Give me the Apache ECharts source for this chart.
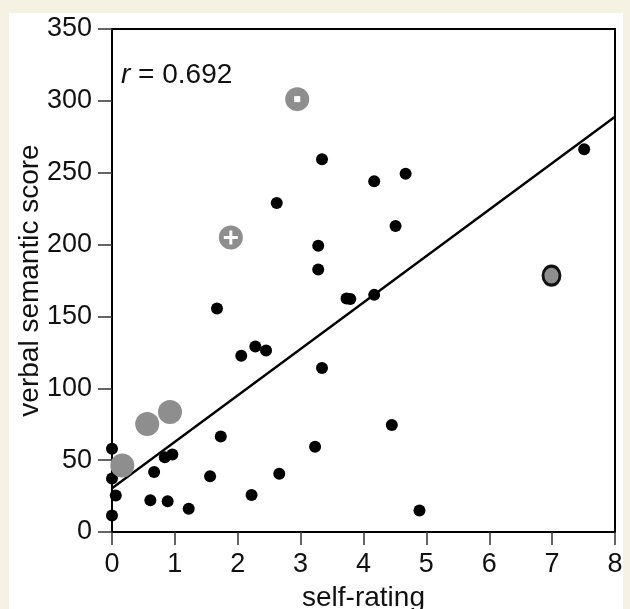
<!DOCTYPE html>
<html>
<head>
<meta charset="utf-8">
<script src="https://cdn.jsdelivr.net/npm/echarts@6/dist/echarts.min.js"></script>
<style>
html,body{margin:0;padding:0;background:#f5f1e3;width:630px;height:609px;overflow:hidden;}
#panel{position:absolute;left:9px;top:13px;width:614px;height:596px;background:#ffffff;}
#chart{position:absolute;left:0;top:0;width:630px;height:609px;}
</style>
</head>
<body>
<div id="panel"></div>
<div id="chart"></div>
<script>
// ---- data ----
const xTicks = [0, 1, 2, 3, 4, 5, 6, 7, 8];
const yTicks = [0, 50, 100, 150, 200, 250, 300, 350];

const blackPoints = [
  [0, 58], [0, 37.2], [0.06, 25.4], [0, 11.5],
  [0.67, 41.8], [0.61, 22.1], [0.885, 21.4], [0.84, 52], [0.96, 53.9],
  [1.22, 16.1], [1.56, 38.8], [1.73, 66.4], [1.67, 155.5],
  [2.056, 122.7], [2.28, 129.1], [2.45, 126.3], [2.22, 25.8], [2.66, 40.6], [2.62, 229],
  [3.23, 59.4], [3.28, 199.1], [3.28, 182.6], [3.34, 259.3], [3.34, 114.1],
  [3.73, 162.5], [3.79, 162.1], [4.17, 165], [4.17, 244], [4.51, 213], [4.67, 249.3],
  [4.45, 74.5], [4.89, 14.9], [7.51, 266.3]
];
const grayPoints = [[0.164, 46.2], [0.56, 75.2], [0.922, 83.5]];
const plusPoint = [[1.89, 204.9]];
const ringPoint = [[2.946, 301.2]];
const outlinedPoint = [[6.99, 178.4]];
const fitLine = [[0, 30.5], [8, 289]];
const rText = '0.692';

// ---- chart ----
const chart = echarts.init(document.getElementById('chart'), null, {renderer: 'canvas'});
const font = 'Liberation Sans, Arial, Helvetica, sans-serif';
const gray = '#8e8e8e';

chart.setOption({
  backgroundColor: 'transparent',
  animation: false,
  grid: {left: 112, right: 15, top: 29, bottom: 77, containLabel: false, outerBoundsMode: 'none',
         show: true, borderColor: '#000', borderWidth: 2, backgroundColor: 'transparent'},
  xAxis: {
    type: 'value', min: xTicks[0], max: xTicks[xTicks.length - 1], interval: 1,
    name: 'self-rating', nameLocation: 'middle', nameGap: 52, nameMoveOverlap: false,
    nameTextStyle: {fontFamily: font, fontSize: 28, color: '#111'},
    axisLine: {show: true, onZero: false, lineStyle: {color: '#000', width: 2}},
    axisTick: {show: true, inside: false, length: 13, lineStyle: {color: '#333', width: 1.5}},
    axisLabel: {fontFamily: font, fontSize: 27, color: '#111', margin: 19},
    splitLine: {show: false}
  },
  yAxis: {
    type: 'value', min: yTicks[0], max: yTicks[yTicks.length - 1], interval: 50,
    name: 'verbal semantic score', nameLocation: 'middle', nameGap: 68, nameRotate: 90, nameMoveOverlap: false,
    nameTextStyle: {fontFamily: font, fontSize: 28, color: '#111'},
    axisLine: {show: true, onZero: false, lineStyle: {color: '#000', width: 2}},
    axisTick: {show: true, inside: false, length: 14, lineStyle: {color: '#333', width: 1.5}},
    axisLabel: {fontFamily: font, fontSize: 27, color: '#111', margin: 20},
    splitLine: {show: false}
  },
  graphic: [{
    type: 'text', left: 121, top: 61, z: 10,
    style: {
      text: '{i|r}{n| = ' + rText + '}',
      rich: {
        i: {fontFamily: font, fontSize: 28, fontStyle: 'italic', fill: '#111'},
        n: {fontFamily: font, fontSize: 28, fill: '#111'}
      }
    }
  }],
  series: [
    {type: 'line', data: fitLine, symbol: 'none', lineStyle: {color: '#000', width: 2.4}, z: 2, silent: true},
    {type: 'scatter', data: blackPoints, symbol: 'circle', symbolSize: 12, itemStyle: {color: '#000', opacity: 1}, z: 3},
    {type: 'scatter', data: grayPoints, symbol: 'circle', symbolSize: 24, itemStyle: {color: gray, opacity: 1}, z: 3},
    {type: 'scatter', data: plusPoint, symbol: 'circle', symbolSize: 24, itemStyle: {color: gray, opacity: 1}, z: 3},
    {type: 'scatter', data: plusPoint, symbol: 'path://M5.5,0H8.5V5.5H14V8.5H8.5V14H5.5V8.5H0V5.5H5.5Z', symbolSize: 14, itemStyle: {color: '#fff', opacity: 1}, z: 4},
    {type: 'scatter', data: ringPoint, symbol: 'circle', symbolSize: 24, itemStyle: {color: gray, opacity: 1}, z: 3},
    {type: 'scatter', data: ringPoint, symbol: 'rect', symbolSize: 6, itemStyle: {color: '#fff', opacity: 1}, z: 4},
    {type: 'scatter', data: outlinedPoint, symbol: 'circle', symbolSize: [17, 19], itemStyle: {color: gray, borderColor: '#111', borderWidth: 3, opacity: 1}, z: 3}
  ]
});
</script>
</body>
</html>
